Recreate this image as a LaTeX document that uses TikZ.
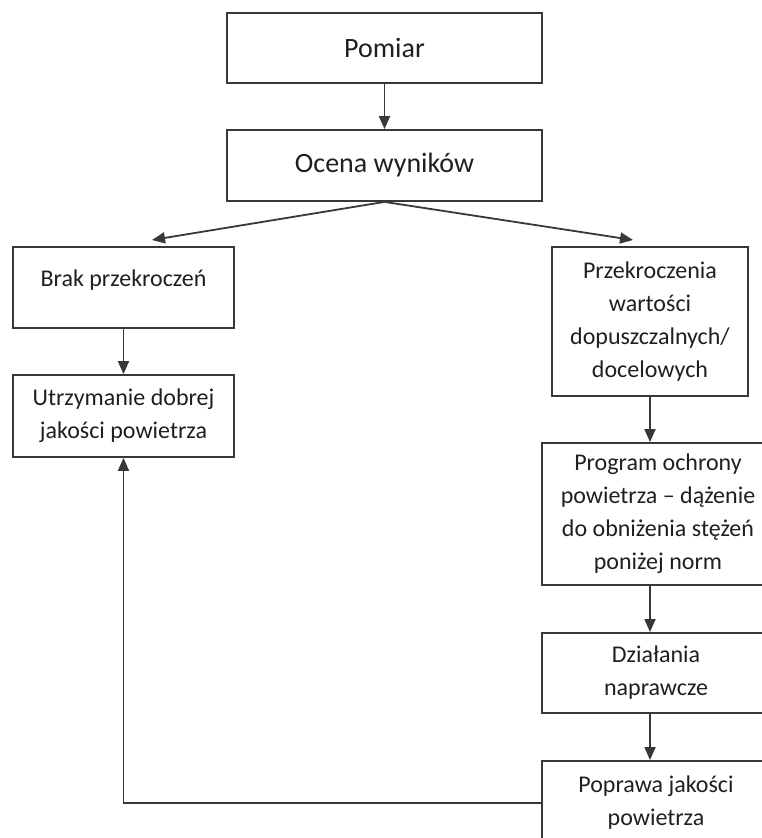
\documentclass[tikz,border=0pt]{standalone}
\usepackage{fontspec}
\setmainfont{Carlito}
\usetikzlibrary{arrows.meta,positioning}

\begin{document}
\begin{tikzpicture}[x=1pt,y=-1pt,
  box/.style={draw=black!78,line width=1.8pt,rectangle,align=center,text=black!88,
    inner sep=0pt,font=\fontsize{24}{33}\selectfont},
  arr/.style={-{Triangle[length=13pt,width=11pt]},line width=1.8pt,draw=black!78}]
\useasboundingbox (0,0) rectangle (762,838);
\node[box,minimum width=315,minimum height=70,font=\fontsize{28}{34}\selectfont] (pomiar) at (384.5,48) {Pomiar};
\node[box,minimum width=315,minimum height=71,font=\fontsize{28}{34}\selectfont] (ocena) at (384.5,165.5) {Ocena wyników};
\node[box,minimum width=221,minimum height=81,text depth=19pt] (brak) at (123.5,287.5) {Brak przekroczeń};
\node[box,minimum width=221,minimum height=82] (utrz) at (123.5,416) {Utrzymanie dobrej\\jakości powietrza};
\node[box,minimum width=196,minimum height=149] (przek) at (650,321.5) {Przekroczenia\\wartości\\dopuszczalnych/\\docelowych};
\node[box,minimum width=232,minimum height=142] (prog) at (658,514) {Program ochrony\\powietrza – dążenie\\do obniżenia stężeń\\poniżej norm};
\node[box,minimum width=228,minimum height=80] (dzial) at (656,673) {Działania\\naprawcze};
\node[box,minimum width=228,minimum height=84] (popr) at (656,803) {Poprawa jakości\\powietrza};
\coordinate (brakin) at (152,240);
\coordinate (przekin) at (633,240);
\draw[arr] (pomiar) -- (ocena);
\draw[arr] (ocena.south) -- (brakin);
\draw[arr] (ocena.south) -- (przekin);
\draw[arr] (brak) -- (utrz);
\draw[arr] (przek.south) -- (przek.south |- prog.north);
\draw[arr] (prog.south -| przek.south) -- (przek.south |- dzial.north);
\draw[arr] (dzial.south -| przek.south) -- (przek.south |- popr.north);
\draw[arr] (popr.west) -| (utrz.south);
\end{tikzpicture}
\end{document}
